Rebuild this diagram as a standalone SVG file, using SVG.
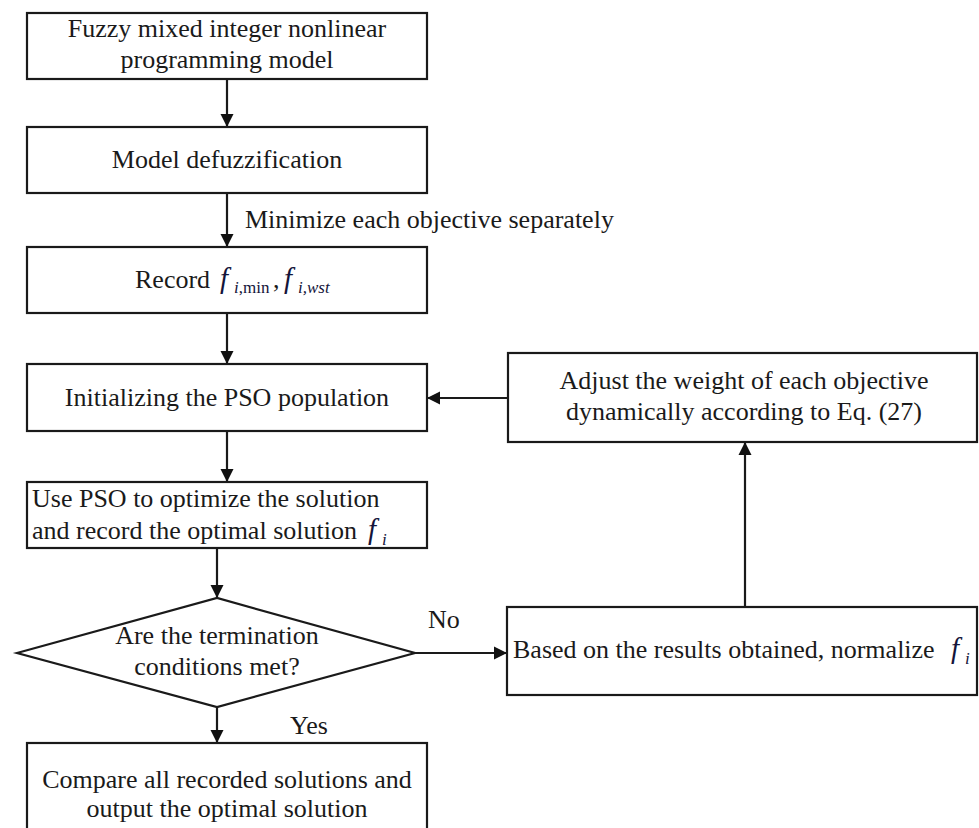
<svg xmlns="http://www.w3.org/2000/svg" width="979" height="828" viewBox="0 0 979 828" font-family="'Liberation Serif', 'DejaVu Serif', serif">
<defs>
<marker id="ah" markerUnits="userSpaceOnUse" markerWidth="14" markerHeight="14" viewBox="0 0 14 14" refX="13" refY="7" orient="auto">
<path d="M0,0.5 L13,7 L0,13.5 Z" fill="#111"/>
</marker>
<style>
.box{fill:#fff;stroke:#1a1a1a;stroke-width:2.2}
.t{font-family:'Liberation Serif','DejaVu Serif',serif;font-size:26px;fill:#1a1a1a}
.c{text-anchor:middle}
.f{font-family:'Liberation Serif','DejaVu Serif',serif;font-style:italic;font-size:29px;fill:#14143a}
.s{font-family:'Liberation Serif','DejaVu Serif',serif;font-size:17px;fill:#14143a}
.si{font-style:italic}
.ln{fill:none;stroke:#1a1a1a;stroke-width:2.2;marker-end:url(#ah)}
</style>
</defs>
<rect width="979" height="828" fill="#fff"/>

<g id="connectors">
<line class="ln" x1="227" y1="79" x2="227" y2="127"/>
<line class="ln" x1="227" y1="193" x2="227" y2="247"/>
<line class="ln" x1="227" y1="313" x2="227" y2="364"/>
<line class="ln" x1="227" y1="431" x2="227" y2="482"/>
<line class="ln" x1="217" y1="548" x2="217" y2="598"/>
<line class="ln" x1="217" y1="707" x2="217" y2="743"/>
<line class="ln" x1="415" y1="653" x2="507" y2="653"/>
<line class="ln" x1="745" y1="607" x2="745" y2="442"/>
<line class="ln" x1="508" y1="398" x2="427" y2="398"/>
<text class="t" x="245" y="228">Minimize each objective separately</text>
<text class="t" x="428" y="628">No</text>
<text class="t" x="290" y="734">Yes</text>
</g>

<g id="n1">
<rect class="box" x="27" y="13" width="400" height="66"/>
<text class="t c" x="227" y="37">Fuzzy mixed integer nonlinear</text>
<text class="t c" x="227" y="68">programming model</text>
</g>

<g id="n2">
<rect class="box" x="27" y="127" width="400" height="66"/>
<text class="t c" x="227" y="168">Model defuzzification</text>
</g>

<g id="n3">
<rect class="box" x="27" y="247" width="400" height="66"/>
<text class="t" x="135" y="288">Record</text>
<text class="f" x="220" y="288">f</text>
<text class="s" x="234" y="293"><tspan class="si">i</tspan>,min</text>
<text class="t" x="273" y="288">,</text>
<text class="f" x="284" y="288">f</text>
<text class="s si" x="298" y="293">i,wst</text>
</g>

<g id="n4">
<rect class="box" x="27" y="364" width="400" height="67"/>
<text class="t c" x="227" y="406">Initializing the PSO population</text>
</g>

<g id="n5">
<rect class="box" x="27" y="482" width="400" height="66"/>
<text class="t" x="32" y="507">Use PSO to optimize the solution</text>
<text class="t" x="32" y="539">and record the optimal solution</text>
<text class="f" x="368" y="539">f</text>
<text class="s si" x="382" y="545">i</text>
</g>

<g id="n6">
<polygon class="box" points="17,653 217,598 415,653 217,707"/>
<text class="t c" x="217" y="644">Are the termination</text>
<text class="t c" x="217" y="675">conditions met?</text>
</g>

<g id="n7">
<rect class="box" x="27" y="743" width="400" height="110"/>
<text class="t c" x="227" y="788">Compare all recorded solutions and</text>
<text class="t c" x="227" y="817">output the optimal solution</text>
</g>

<g id="n8">
<rect class="box" x="508" y="353" width="469" height="89"/>
<text class="t c" x="744" y="389">Adjust the weight of each objective</text>
<text class="t c" x="744" y="420">dynamically according to Eq. (27)</text>
</g>

<g id="n9">
<rect class="box" x="507" y="607" width="470" height="88"/>
<text class="t" x="513" y="658">Based on the results obtained, normalize</text>
<text class="f" x="951" y="658">f</text>
<text class="s si" x="965" y="664">i</text>
</g>
</svg>
